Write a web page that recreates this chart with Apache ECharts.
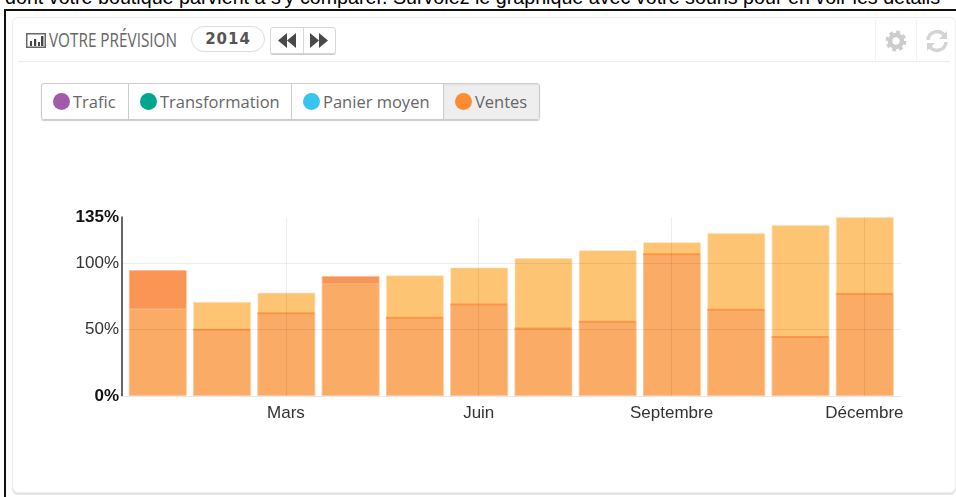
<!DOCTYPE html>
<html>
<head>
<meta charset="utf-8">
<script src="https://cdn.jsdelivr.net/npm/echarts@6/dist/echarts.min.js"></script>
<style>
html,body{margin:0;padding:0;background:#fff;overflow:hidden}
body{width:956px;height:497px;position:relative;font-family:"Open Sans",sans-serif}
.abs{position:absolute;box-sizing:border-box}
#intro{left:5px;top:-14px;font:19.7px/22px "Liberation Sans",Arial,sans-serif;color:#000;white-space:nowrap}
#frameTop{left:4px;top:9px;width:952px;height:2px;background:#111}
#frameLeft{left:4px;top:9px;width:2px;height:488px;background:#111}
#panel{left:12px;top:17px;width:944px;height:476px;background:#fff;border:1px solid #ececec;border-radius:6px;box-shadow:0 2px 0 #e4e4e4}
#headLine{left:18px;top:61px;width:932px;height:1px;background:#eee}
#title{left:49px;top:26px;font-size:20px;color:#666;white-space:nowrap;transform:scaleX(.765);transform-origin:left center}
#year{left:191px;top:26px;width:74px;height:26px;border:1px solid #ddd;border-radius:13px;font:bold 15px/24px "DejaVu Sans",sans-serif;color:#555;text-align:center;letter-spacing:1px}
#nav{left:270px;top:27px;width:66px;height:27px;border:1px solid #d8d8d8;border-radius:3px;box-shadow:0 1px 0 #ccc}
#navSep{left:303px;top:27px;width:1px;height:27px;background:#d8d8d8}
.vsep{top:20px;width:1px;height:41px;background:#f2f2f2}
#legend{left:41px;top:83px;width:499px;height:37px;border:1px solid #ccc;border-radius:3px;box-shadow:0 1px 1px #ccc;display:flex;font-size:16.5px;color:#666}
#legend div{display:flex;align-items:center;box-sizing:border-box;padding-left:11px;border-right:1px solid #ccc}
#legend div:last-child{border-right:0;background:#eee;box-shadow:inset 0 1px 2px #ddd}
#legend i{display:inline-block;width:17px;height:17px;border-radius:50%;margin-right:3px}
#chart{left:0;top:0;width:956px;height:497px}
</style>
</head>
<body>
<div class="abs" id="intro">dont votre boutique parvient à s'y comparer. Survolez le graphique avec votre souris pour en voir les détails</div>
<div class="abs" id="frameTop"></div>
<div class="abs" id="frameLeft"></div>
<div class="abs" id="panel"></div>
<div class="abs" id="headLine"></div>
<svg class="abs" style="left:26px;top:33px" width="20" height="15" viewBox="0 0 20 15">
  <rect x="0.75" y="0.75" width="18.5" height="13.5" fill="none" stroke="#666" stroke-width="1.5"/>
  <path d="M4 8h2v5H4zM8 6h2.2v7H8zM12 9h2v4h-2zM15 3h2.4v10H15z" fill="#444"/>
</svg>
<div class="abs" id="title">VOTRE PRÉVISION</div>
<div class="abs" id="year">2014</div>
<div class="abs" id="nav"></div>
<div class="abs" id="navSep"></div>
<svg class="abs" style="left:278px;top:33px" width="50" height="15" viewBox="0 0 50 15">
  <path d="M9 0v15L0 7.5zM18 0v15L9 7.5zM32 0v15l9-7.5zM41 0v15l9-7.5z" fill="#4a4a4a"/>
</svg>
<div class="abs vsep" style="left:875px"></div>
<div class="abs vsep" style="left:916px"></div>
<svg class="abs" style="left:885px;top:30px" width="22" height="22" viewBox="0 0 24 24">
  <circle cx="12" cy="12" r="6.5" fill="none" stroke="#ccc" stroke-width="5"/>
  <circle cx="12" cy="12" r="9.6" fill="none" stroke="#ccc" stroke-width="3.6" stroke-dasharray="4 3.54"/>
</svg>
<svg class="abs" style="left:925px;top:29px" width="24" height="24" viewBox="0 0 24 24">
  <path d="M3 11a9 9 0 0 1 16-5M21 13a9 9 0 0 1-16 5" fill="none" stroke="#d4d4d4" stroke-width="3.4"/>
  <path d="M22 2v8h-8zM2 22v-8h8z" fill="#d4d4d4"/>
</svg>
<div class="abs" id="legend">
  <div style="width:87px"><i style="background:#a05ca8"></i>Trafic</div>
  <div style="width:163px"><i style="background:#00a78e"></i>Transformation</div>
  <div style="width:152px"><i style="background:#39c3ef"></i>Panier moyen</div>
  <div style="width:95px"><i style="background:#ff8c33"></i>Ventes</div>
</div>
<div class="abs" id="chart"></div>
<script>
var monthNumbers = [1, 2, 3, 4, 5, 6, 7, 8, 9, 10, 11, 12];
var forecastValues = [66, 71, 78, 85, 91, 97, 104, 110, 116, 123, 129, 135];
var salesValues = [95, 50, 62.5, 90.5, 59, 69, 51, 56, 107, 65, 44.5, 77];
var tickMonths = [3, 6, 9, 12];
var tickMonthNames = ['Mars', 'Juin', 'Septembre', 'Décembre'];
var percentLabels = [0, 50, 100, 135];
var gridPercents = [0, 50, 100];

function pairUp(values) {
  return monthNumbers.map(function (m, i) { return [m, values[i]]; });
}

// le trait foncé n'apparait que quand les ventes sont sous la prévision
var salesEdges = pairUp(salesValues).filter(function (p, i) {
  return salesValues[i] < forecastValues[i];
});

var chart = echarts.init(document.getElementById('chart'), null, { renderer: 'canvas' });
chart.setOption({
  animation: false,
  grid: { left: 122, top: 217, width: 779, height: 179 },
  xAxis: {
    type: 'value',
    z: 5,
    min: 0.45,
    max: 12.57,
    axisLine: { show: true, onZero: false, lineStyle: { color: '#e6e6e6' } },
    axisTick: { show: false, customValues: tickMonths },
    splitLine: { show: true, lineStyle: { color: 'rgba(0,0,0,0.07)' } },
    axisLabel: {
      customValues: tickMonths,
      margin: 9,
      color: '#333',
      fontFamily: 'Liberation Sans',
      fontSize: 17,
      formatter: function (v) { return tickMonthNames[tickMonths.indexOf(v)]; }
    }
  },
  yAxis: {
    type: 'value',
    z: 5,
    min: 0,
    max: 135,
    axisLine: { show: true, lineStyle: { color: '#333', width: 1.5 } },
    axisTick: { show: false, customValues: gridPercents },
    splitLine: { show: true, lineStyle: { color: 'rgba(0,0,0,0.07)' } },
    axisLabel: {
      customValues: percentLabels,
      margin: 3,
      color: '#333',
      fontFamily: 'Liberation Sans',
      fontSize: 17,
      formatter: function (v) {
        var txt = v + '%';
        return (v == 0 || v == 135) ? '{b|' + txt + '}' : txt;
      },
      rich: { b: { fontFamily: 'Liberation Sans', fontSize: 17, fontWeight: 'bold', color: '#111' } }
    }
  },
  series: [
    {
      name: 'Ventes',
      type: 'bar',
      barWidth: 58,
      barGap: '-100%',
      data: pairUp(salesValues),
      itemStyle: { color: 'rgb(251,136,47)', borderColor: 'rgba(255,205,170,0.6)', borderWidth: 1 }
    },
    {
      name: 'Prévision',
      type: 'bar',
      barWidth: 58,
      barGap: '-100%',
      data: pairUp(forecastValues),
      itemStyle: { color: 'rgba(251,181,80,0.8)', borderColor: 'rgba(255,225,190,0.6)', borderWidth: 1 }
    },
    {
      name: 'Ventes voile',
      type: 'bar',
      barWidth: 57,
      barGap: '-100%',
      data: pairUp(salesValues),
      itemStyle: { color: 'rgba(250,170,145,0.4)' }
    },
    {
      name: 'Trait ventes',
      type: 'scatter',
      symbol: 'rect',
      symbolSize: [57, 2],
      data: salesEdges,
      itemStyle: { color: 'rgba(250,125,45,0.75)' },
      z: 3
    }
  ]
});
</script>
</body>
</html>
